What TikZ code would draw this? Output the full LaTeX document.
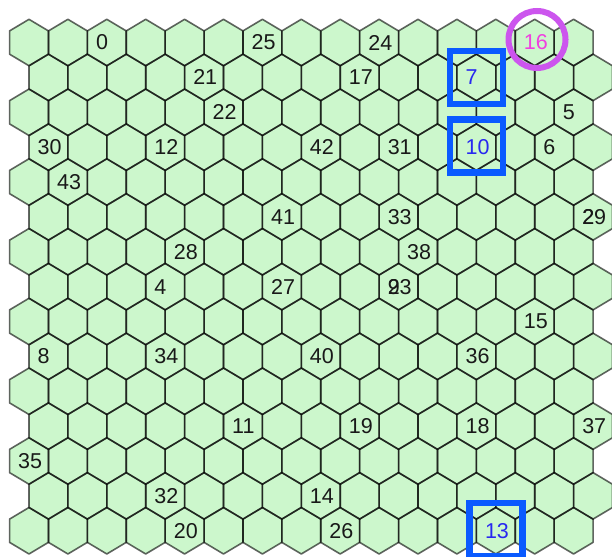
\documentclass[tikz,border=0pt]{standalone}
\usepackage{fontspec}
\setmainfont{Liberation Sans}
\definecolor{hexfill}{HTML}{CCF7CC}
\definecolor{boxblue}{HTML}{0A5AFF}
\definecolor{lblblue}{HTML}{2828F0}
\definecolor{circmag}{HTML}{CC55EE}
\definecolor{lblmag}{HTML}{F040E0}
\tikzset{
  hexlbl/.style={anchor=west,inner sep=0pt,font=\fontsize{21.5}{21.5}\selectfont,text=black!90},
  bluelbl/.style={hexlbl,text=lblblue},
  maglbl/.style={hexlbl,text=lblmag},
  markbox/.style={draw=boxblue,line width=6.5pt,minimum size=53pt,inner sep=0pt},
  markcirc/.style={draw=circmag,line width=6pt,circle,minimum size=57pt,inner sep=0pt},
  hexedge/.style={draw=black,draw opacity=0.6,line width=1.6pt,line join=round}
}
\begin{document}
\begin{tikzpicture}[x=1pt,y=-1pt]
\useasboundingbox (0,0) rectangle (612,556);
\clip (0,0) rectangle (612,556);
\fill[white] (0,0) rectangle (612,556);
% hex fills
\foreach \r in {0,...,14}{\foreach \c in {0,...,14}{
  \pgfmathsetmacro\cx{29+38.9*\c+19.45*mod(\r,2)}
  \pgfmathsetmacro\cy{42.55+34.87*\r}
  \fill[hexfill] (\cx,\cy) +(0,-23.25) -- +(19.45,-11.625) -- +(19.45,11.625) -- +(0,23.25) -- +(-19.45,11.625) -- +(-19.45,-11.625) -- cycle;
}}
% hex outlines
\foreach \r in {0,...,14}{\foreach \c in {0,...,14}{
  \pgfmathsetmacro\cx{29+38.9*\c+19.45*mod(\r,2)}
  \pgfmathsetmacro\cy{42.55+34.87*\r}
  \path[hexedge] (\cx,\cy) +(0,-23.25) -- +(19.45,-11.625) -- +(19.45,11.625) -- +(0,23.25) -- +(-19.45,11.625) -- +(-19.45,-11.625) -- cycle;
}}
% black labels
\foreach \r/\c/\t in {0/2/0,0/6/25,0/9/24,1/4/21,1/8/17,2/5/22,2/14/5,
  3/0/30,3/3/12,3/7/42,3/9/31,3/13/6,4/1/43,5/6/41,5/9/33,5/14/29,5/14/2,
  6/4/28,6/10/38,7/3/4,7/6/27,7/9/23,7/9/9,8/13/15,9/0/8,9/3/34,9/7/40,9/11/36,
  11/5/11,11/8/19,11/11/18,11/14/37,12/0/35,13/3/32,13/7/14,14/4/20,14/8/26}{
  \pgfmathsetmacro\cx{29+38.9*\c+19.45*mod(\r,2)-11}
  \pgfmathsetmacro\cy{42.55+34.87*\r}
  \node[hexlbl] (n\t) at (\cx,\cy) {\t};
}
% highlighted labels
\node[bluelbl] (n7) at (465.35,77.42) {7};
\node[bluelbl] (n10) at (465.35,147.16) {10};
\node[bluelbl] (n13) at (484.8,530.73) {13};
\node[maglbl] (n16) at (523.7,42.55) {16};
% markers
\node[markbox] (b7) at (476.35,77.42) {};
\node[markbox] (b10) at (476.35,146.2) {};
\node[markbox] (b13) at (495.8,529.5) {};
\node[markcirc] (c16) at (537,39.5) {};
\end{tikzpicture}
\end{document}
